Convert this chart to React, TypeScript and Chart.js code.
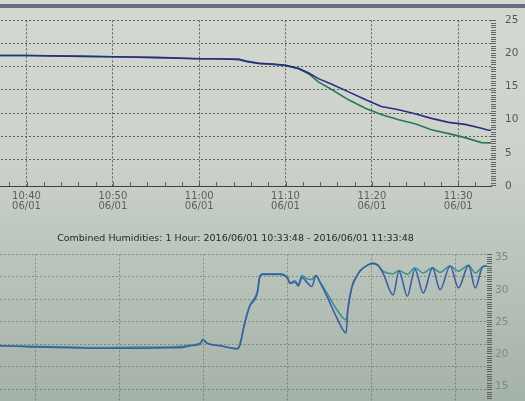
import React, { useEffect, useRef } from "react";
import { Chart, registerables } from "chart.js";

Chart.register(...registerables);

// time axis in minutes after 10:00 (10:33:48 -> 11:33:48)
const rangeStart = 33.8;
const rangeEnd = 93.8;
const timeTicks = [40, 50, 60, 70, 80, 90];
const dateText = "06/01";
const humidityTitle =
  "Combined Humidities: 1 Hour: 2016/06/01 10:33:48 - 2016/06/01 11:33:48";

const tempTicks = [0, 5, 10, 15, 20, 25];
const humTicks = [15, 20, 25, 30, 35];

// upper chart (temperatures)
const tempTimes = [
  33.8, 36.9, 40, 45, 50, 55, 60, 62, 64.6, 65.5, 66.9, 68.5, 70, 71.5, 72.7,
  73.8, 75.3, 77.3, 79.3, 81.1, 83.1, 85.0, 86.9, 88.9, 90.8, 92.7, 93.5, 93.8,
];
const tempBlue = [
  19.7, 19.7, 19.7, 19.6, 19.5, 19.4, 19.2, 19.2, 19.1, 18.8, 18.5, 18.4, 18.2,
  17.75, 17.05, 16.2, 15.4, 14.2, 13.0, 12.0, 11.5, 10.9, 10.2, 9.6, 9.3, 8.7,
  8.4, 8.4,
];
const tempGreen = [
  19.7, 19.7, 19.7, 19.6, 19.5, 19.35, 19.2, 19.15, 19.1, 18.8, 18.5, 18.35,
  18.2, 17.7, 16.9, 15.7, 14.6, 13.0, 11.7, 10.8, 10.0, 9.4, 8.5, 7.9, 7.3,
  6.55, 6.5, 6.5,
];

// lower chart (combined humidities)
const humTimes = [
  33.8, 35.7, 40.0, 44.0, 47.6, 52.0, 56.0, 57.2, 58.4, 59.6, 59.9, 60.4, 62.0,
  64.0, 64.3, 64.9, 65.5, 66.4, 66.7, 67.1, 69.1, 70.0, 70.3, 70.9, 71.3, 71.7,
  72.3, 72.9, 73.4, 73.9, 74.7, 75.9, 77.0, 77.2, 77.7, 78.3, 78.7, 79.5, 80.2,
  80.8, 81.4, 82.6, 83.3, 84.3, 85.2, 86.2, 87.3, 88.2, 89.4, 90.4, 91.6, 92.4,
  93.3, 93.8,
];
const humBlue = [
  21.3, 21.3, 21.1, 21.0, 20.9, 20.9, 21.0, 21.0, 21.3, 21.6, 22.2, 21.7, 21.3,
  20.8, 21.3, 24.8, 27.4, 29.5, 32.0, 32.4, 32.4, 31.8, 31.0, 31.2, 30.6, 31.9,
  31.2, 30.5, 32.2, 31.1, 29.0, 25.6, 23.3, 26.9, 30.5, 32.2, 33.0, 33.8, 34.1,
  33.8, 32.6, 29.2, 32.9, 29.0, 33.2, 29.5, 33.4, 30.0, 33.7, 30.3, 33.8, 30.3,
  33.6, 33.7,
];
const humGreen = [
  21.3, 21.3, 21.2, 21.1, 21.0, 21.1, 21.1, 21.2, 21.4, 21.7, 22.3, 21.7, 21.3,
  20.9, 21.4, 24.9, 27.6, 29.7, 32.1, 32.5, 32.5, 31.9, 31.1, 31.4, 30.8, 32.2,
  31.7, 31.6, 32.2, 31.2, 29.5, 26.9, 25.3, 26.9, 30.5, 32.2, 33.0, 33.8, 34.1,
  33.8, 32.9, 32.5, 33.0, 32.4, 33.4, 32.6, 33.4, 32.7, 33.7, 32.9, 33.8, 32.6,
  33.6, 33.7,
];

const FONT = "'DejaVu Sans', sans-serif";

function fmtTime(m: number) {
  const total = Math.round(m);
  const h = 10 + Math.floor(total / 60);
  const mm = total % 60;
  return `${h}:${String(mm).padStart(2, "0")}`;
}

const minorTicksPlugin = {
  id: "minorTicks",
  afterDraw(chart: any, _args: any, opts: any) {
    const { ctx, chartArea } = chart;
    const y = chart.scales.y;
    const x = chart.scales.x;
    ctx.save();
    ctx.strokeStyle = opts.color;
    ctx.lineWidth = 1;
    ctx.beginPath();
    for (let v = y.max; v >= y.min - 1e-6; v -= opts.yStep) {
      const py = Math.round(y.getPixelForValue(v)) + 0.5;
      ctx.moveTo(chartArea.right, py);
      ctx.lineTo(chartArea.right + opts.yLen, py);
    }
    if (opts.xStep) {
      for (
        let v = Math.ceil(x.min / opts.xStep) * opts.xStep;
        v <= x.max;
        v += opts.xStep
      ) {
        const px = Math.round(x.getPixelForValue(v)) + 0.5;
        ctx.moveTo(px, chartArea.bottom);
        ctx.lineTo(px, chartArea.bottom - opts.xLen);
      }
    }
    ctx.stroke();
    ctx.restore();
  },
};

function buildConfig(p: {
  times: number[];
  a: number[];
  b: number[];
  colorA: string;
  colorB: string;
  min: number;
  max: number;
  labelTicks: number[];
  gridColor: string;
  labelColor: string;
  rightWidth: number;
  labelPad: number;
  xHeight: number;
  paddingTop: number;
  title?: string;
  smooth: boolean;
  xMinor: number;
}) {
  const toPts = (vals: number[]) => p.times.map((t, i) => ({ x: t, y: vals[i] }));
  return {
    type: "line",
    data: {
      datasets: [
        {
          data: toPts(p.a),
          borderColor: p.colorA,
          borderWidth: 1.6,
          pointRadius: 0,
          fill: false,
          cubicInterpolationMode: p.smooth ? "monotone" : "default",
          tension: 0,
        },
        {
          data: toPts(p.b),
          borderColor: p.colorB,
          borderWidth: 1.6,
          pointRadius: 0,
          fill: false,
          cubicInterpolationMode: p.smooth ? "monotone" : "default",
          tension: 0,
        },
      ],
    },
    options: {
      responsive: false,
      animation: false,
      devicePixelRatio: 1,
      layout: { padding: { top: p.paddingTop, left: 0, right: 0, bottom: 0 } },
      plugins: {
        legend: { display: false },
        tooltip: { enabled: false },
        title: p.title
          ? {
              display: true,
              text: p.title,
              fullSize: false,
              color: "#262826",
              font: { family: FONT, size: 9.5, weight: "normal" },
              padding: { top: 5, bottom: 10 },
            }
          : { display: false },
        minorTicks: {
          color: "rgba(70,75,72,0.8)",
          yStep: 0.35,
          yLen: 5,
          xStep: p.xMinor,
          xLen: 4,
        },
      },
      scales: {
        x: {
          type: "linear",
          min: rangeStart,
          max: rangeEnd,
          afterBuildTicks: (s: any) => {
            s.ticks = timeTicks.map((v) => ({ value: v }));
          },
          afterFit: (s: any) => {
            s.height = p.xHeight;
          },
          ticks: {
            autoSkip: false,
            maxRotation: 0,
            includeBounds: false,
            padding: 5,
            color: "#5a5f5b",
            font: { family: FONT, size: 10, lineHeight: 1.05 },
            callback: (v: number) => [fmtTime(v), dateText],
          },
          grid: {
            drawOnChartArea: true,
            drawTicks: false,
            color: p.gridColor,
            lineWidth: 1,
          },
          border: { display: true, color: "#3e423f", width: 1, dash: [2, 2] },
        },
        yg: {
          type: "linear",
          position: "left",
          min: p.min,
          max: p.max,
          afterBuildTicks: (s: any) => {
            const t: any[] = [];
            for (let v = p.max; v >= p.min + 1; v -= 3.5) t.push({ value: v });
            s.ticks = t;
          },
          afterFit: (s: any) => {
            s.width = 0;
          },
          ticks: { display: false },
          grid: {
            drawOnChartArea: true,
            drawTicks: false,
            color: p.gridColor,
            lineWidth: 1,
          },
          border: { display: false, dash: [2, 2] },
        },
        y: {
          type: "linear",
          position: "right",
          min: p.min,
          max: p.max,
          afterBuildTicks: (s: any) => {
            s.ticks = p.labelTicks.map((v) => ({ value: v }));
          },
          afterFit: (s: any) => {
            s.width = p.rightWidth;
          },
          ticks: {
            padding: p.labelPad,
            color: p.labelColor,
            font: { family: FONT, size: 10.5 },
          },
          grid: { drawOnChartArea: false, drawTicks: false },
          border: { display: false },
        },
      },
    },
    plugins: [minorTicksPlugin],
  } as any;
}

export default function App() {
  const topRef = useRef<HTMLCanvasElement>(null);
  const botRef = useRef<HTMLCanvasElement>(null);

  useEffect(() => {
    const top = new Chart(
      topRef.current!,
      buildConfig({
        times: tempTimes,
        a: tempBlue,
        b: tempGreen,
        colorA: "#2b2d82",
        colorB: "#2c7658",
        min: 0,
        max: 25,
        labelTicks: tempTicks,
        gridColor: "rgba(65,70,66,0.8)",
        labelColor: "#545955",
        rightWidth: 34,
        labelPad: 14,
        xHeight: 36,
        paddingTop: 17,
        smooth: false,
        xMinor: 2,
      })
    );
    const bot = new Chart(
      botRef.current!,
      buildConfig({
        times: humTimes,
        a: humBlue,
        b: humGreen,
        colorA: "#3d5ea4",
        colorB: "#3a9496",
        min: 11,
        max: 35.5,
        labelTicks: humTicks,
        gridColor: "rgba(85,95,88,0.55)",
        labelColor: "#7e8982",
        rightWidth: 38,
        labelPad: 8,
        xHeight: 36,
        paddingTop: 0,
        title: humidityTitle,
        smooth: true,
        xMinor: 2,
      })
    );
    return () => {
      top.destroy();
      bot.destroy();
    };
  }, []);

  return (
    <div
      style={{
        position: "fixed",
        left: 0,
        top: 0,
        width: 525,
        height: 401,
        overflow: "hidden",
        background:
          "linear-gradient(180deg, #d3d8d1 0%, #ccd2cb 40%, #bcc6bd 62%, #a5b2a8 100%)",
      }}
    >
      <div
        style={{
          position: "absolute",
          left: 0,
          top: 4,
          width: 525,
          height: 4,
          background: "#65707e",
        }}
      />
      <canvas
        ref={topRef}
        width={552}
        height={222}
        style={{ position: "absolute", left: -27, top: 0, display: "block" }}
      />
      <canvas
        ref={botRef}
        width={541}
        height={220}
        style={{ position: "absolute", left: -16, top: 228, display: "block" }}
      />
    </div>
  );
}
